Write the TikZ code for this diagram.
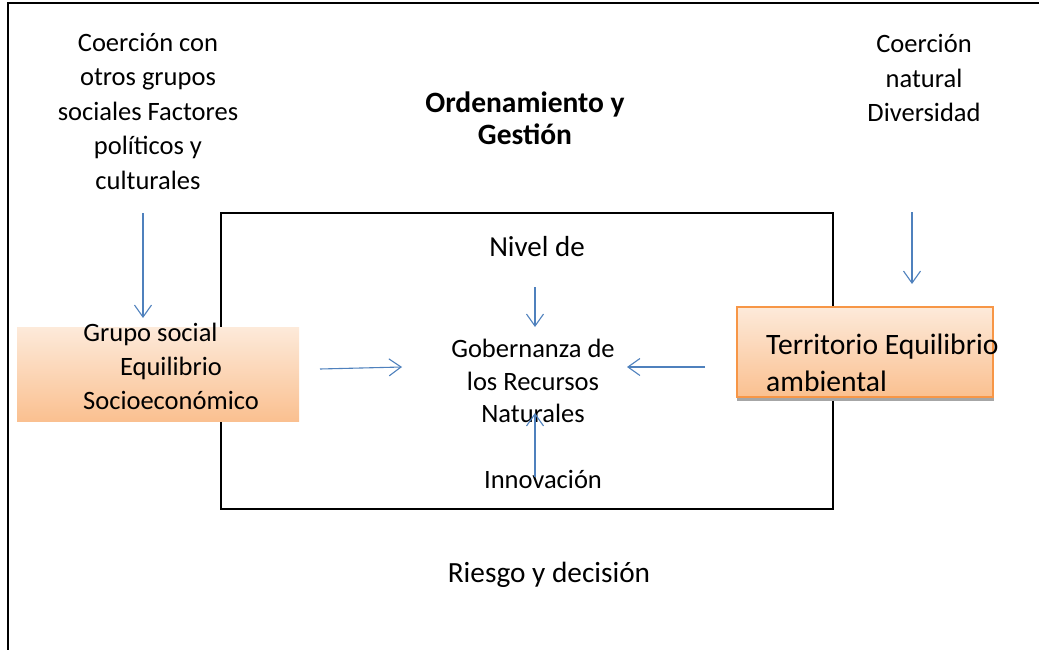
\documentclass[tikz,border=0pt]{standalone}
\usepackage{fontspec}
\setmainfont{Carlito}
\usetikzlibrary{arrows.meta}

\definecolor{azulFlecha}{HTML}{4F81BD}
\definecolor{naranjaClaro}{HTML}{FDEADA}
\definecolor{naranjaFuerte}{HTML}{FAC090}
\definecolor{bordeNaranja}{HTML}{F79646}
\definecolor{sombraGris}{HTML}{A6A6A6}

\tikzset{
  conector/.style={draw=azulFlecha, line width=1.1pt, -{Straight Barb[length=12pt,width=17pt,line width=1.1pt]}},
  texto/.style={font=\fontsize{26.5}{34.5}\selectfont, align=center, inner sep=0pt},
  textoGrande/.style={font=\fontsize{29}{36}\selectfont, inner sep=0pt},
}

\begin{document}
\begin{tikzpicture}[x=1pt, y=-1pt]
                \useasboundingbox (0,0) rectangle (1039,650);
                
                % Draw outer frame (top and left edges)
                \draw[line width=1.5pt] (8,650) -- (8,3) -- (1039,3);
                
                % Draw central box
                \draw[line width=1.2pt] (221,213) rectangle (833,509);
                
                % Orange boxes
                \shade[top color=naranjaClaro, bottom color=naranjaFuerte] (17,327) rectangle (299,421);
                \fill[sombraGris] (737,311) rectangle (994,401);
                \shade[top color=naranjaClaro, bottom color=naranjaFuerte, draw=bordeNaranja, line width=2pt] (737,307) rectangle (993,397);
                
                % Texts
                \node[texto] (coercionSocial) at (148,111) {Coerción con\\otros grupos\\sociales Factores\\políticos y\\culturales};
                \node[texto, font=\bfseries\fontsize{29.5}{32}\selectfont] (ordenamiento) at (525,118) {Ordenamiento y\\Gestión};
                \node[texto] (coercionNatural) at (924,78) {Coerción\\natural\\Diversidad};
                \node[textoGrande, anchor=base] (nivel) at (537,256) {Nivel de};
                \node[texto, font=\fontsize{26.5}{32.5}\selectfont] (gobernanza) at (533,381) {Gobernanza de\\los Recursos\\Naturales};
                \node[texto, anchor=base] (innovacion) at (543,488) {Innovación};
                \node[textoGrande, font=\fontsize{29.3}{36}\selectfont, anchor=base] (riesgo) at (549,582) {Riesgo y decisión};
                \node[texto, font=\fontsize{26.5}{34}\selectfont] (grupoSocial) at (171,366) {Grupo social\hspace*{41pt}\\Equilibrio\\Socioeconómico};
                \node[texto, align=left, anchor=west, font=\fontsize{29.6}{37}\selectfont] (territorio) at (766,363) {Territorio Equilibrio\\ambiental};
                
                % Arrow end points
                \coordinate (a1s) at (143,213);  \coordinate (a1e) at (143,318);
                \coordinate (a2s) at (912,212);  \coordinate (a2e) at (912,284);
                \coordinate (a3s) at (535,287);  \coordinate (a3e) at (535,327);
                \coordinate (a4s) at (320,369);  \coordinate (a4e) at (402,367);
                \coordinate (a5s) at (705,367);  \coordinate (a5e) at (627,367);
                \coordinate (a6s) at (535,477);  \coordinate (a6e) at (535,413);
                
                % Draw arrows
                \draw[conector] (a1s) -- (a1e);
                \draw[conector] (a2s) -- (a2e);
                \draw[conector] (a3s) -- (a3e);
                \draw[conector] (a4s) -- (a4e);
                \draw[conector] (a5s) -- (a5e);
                \draw[conector] (a6s) -- (a6e);
            \end{tikzpicture}
\end{document}
